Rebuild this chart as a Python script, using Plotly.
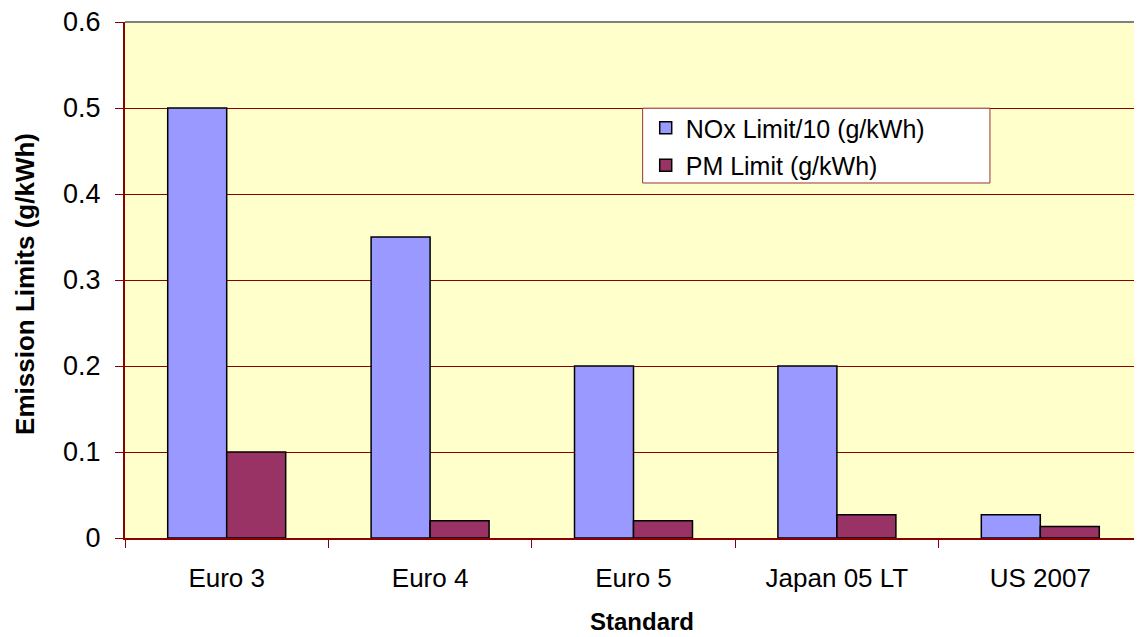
import plotly.graph_objects as go

categories = ["Euro 3", "Euro 4", "Euro 5", "Japan 05 LT", "US 2007"]
nox_limit_div10 = [0.5, 0.35, 0.2, 0.2, 0.027]
pm_limit = [0.1, 0.02, 0.02, 0.027, 0.0134]
y_ticks = [0, 0.1, 0.2, 0.3, 0.4, 0.5, 0.6]
y_tick_labels = ["0", "0.1", "0.2", "0.3", "0.4", "0.5", "0.6"]

FONT = "Liberation Sans, Arial, sans-serif"
RED = "#8B0000"

fig = go.Figure()
fig.add_trace(go.Bar(x=categories, y=nox_limit_div10, name="NOx Limit/10 (g/kWh)",
                     legendgroup="a",
                     marker=dict(color="#9999FF", line=dict(color="#000000", width=1.5))))
fig.add_trace(go.Bar(x=categories, y=pm_limit, name="PM Limit (g/kWh)",
                     legendgroup="b",
                     marker=dict(color="#993366", line=dict(color="#000000", width=1.5))))

# page body has an 8px margin: shift figure so plot sits at x 125..1142, y 22..538
fig.update_layout(
    width=1134, height=629,
    margin=dict(l=117, r=0, t=14, b=99, autoexpand=False),
    paper_bgcolor="white", plot_bgcolor="#FFFFCC",
    barmode="group", bargap=0.42, bargroupgap=0,
    font=dict(family=FONT, color="black"),
    legend=dict(x=0.512, y=0.839, xanchor="left", yanchor="top",
                bgcolor="rgba(0,0,0,0)", borderwidth=0,
                font=dict(size=25, family=FONT), tracegroupgap=2),
    showlegend=True,
)
fig.update_xaxes(
    tickfont=dict(size=26, family=FONT), showgrid=False, automargin=False,
    showline=True, linecolor=RED, linewidth=2,
    ticks="outside", tickson="boundaries", ticklen=8, tickcolor=RED,
    ticklabelstandoff=16,
)
fig.update_yaxes(
    range=[0, 0.6], tickvals=y_ticks, ticktext=y_tick_labels, automargin=False,
    tickfont=dict(size=27, family=FONT), ticklabeloverflow="allow",
    showgrid=True, gridcolor=RED, gridwidth=1,
    showline=True, linecolor=RED, linewidth=2,
    ticks="outside", ticklen=8, tickcolor=RED, zeroline=False,
    ticklabelstandoff=9,
)
fig.add_shape(type="line", xref="paper", yref="paper", x0=0, x1=1, y0=1, y1=1,
              line=dict(color="#808080", width=2))
# legend frame
fig.add_shape(type="rect", xref="paper", yref="paper", x0=0.509, x1=0.8505,
              y0=0.688, y1=0.833, fillcolor="white",
              line=dict(color="#993333", width=1), layer="above")
fig.add_annotation(text="<b>Emission Limits (g/kWh)</b>", xref="paper", yref="paper",
                   x=-0.099, y=0.493, textangle=-90, showarrow=False,
                   xanchor="center", yanchor="middle",
                   font=dict(size=26, family=FONT, color="black"))
fig.add_annotation(text="<b>Standard</b>", xref="paper", yref="paper",
                   x=0.508, y=-0.161, showarrow=False,
                   xanchor="center", yanchor="middle",
                   font=dict(size=24, family=FONT, color="black"))

fig.write_html("out.html")
